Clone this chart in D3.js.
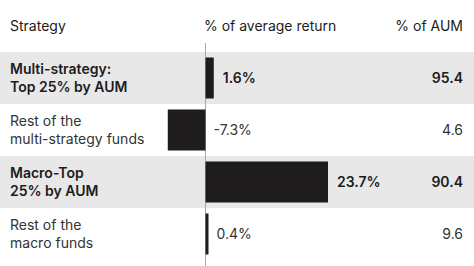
<!DOCTYPE html>
<html><head><meta charset="utf-8">
<script src="https://cdn.jsdelivr.net/npm/d3@7/dist/d3.min.js"></script>
<style>
html,body{margin:0;padding:0;background:#fff;}
svg{display:block;font-family:Inter,"Noto Sans",sans-serif;}
</style></head>
<body><svg id="c" width="474" height="266"></svg>
<script>
const categories = [
  ["Multi-strategy:", "Top 25% by AUM"],
  ["Rest of the", "multi-strategy funds"],
  ["Macro-Top", "25% by AUM"],
  ["Rest of the", "macro funds"]
];
const highlighted = [true, false, true, false];
const avgReturn = [1.6, -7.3, 23.7, 0.4];
const aumShare = [95.4, 4.6, 90.4, 9.6];
const headers = ["Strategy", "% of average return", "% of AUM"];

const W = 474, H = 266;
const svg = d3.select("#c");
const rows = d3.range(categories.length);

const y = d3.scaleBand().domain(rows).range([52, 260]).paddingInner(0);
const x = d3.scaleLinear().domain([0, 23.7]).range([205.5, 328]);

// header
const hdr = svg.append("g").attr("font-size", 14).attr("fill", "#1c1c1c");
hdr.append("text").attr("x", 10).attr("y", 31).text(headers[0]);
hdr.append("text").attr("x", 204).attr("y", 31).text(headers[1]);
hdr.append("text").attr("x", 463).attr("y", 31).attr("text-anchor", "end").text(headers[2]);

// bands
svg.append("g").selectAll("rect").data(rows.filter(i => highlighted[i])).join("rect")
  .attr("x", 0).attr("width", W)
  .attr("y", i => y(i)).attr("height", y.bandwidth())
  .attr("fill", "#e9e8e9");

// zero line
svg.append("line").attr("x1", x(0)).attr("x2", x(0)).attr("y1", 43).attr("y2", H)
  .attr("stroke", "#a8a8a8").attr("stroke-width", 1);

// bars
const barH = 41;
svg.append("g").selectAll("rect").data(rows).join("rect")
  .attr("x", i => Math.min(x(0), x(avgReturn[i])))
  .attr("width", i => Math.max(3, Math.abs(x(avgReturn[i]) - x(0))))
  .attr("y", i => y(i) + (y.bandwidth() - barH) / 2)
  .attr("height", barH)
  .attr("fill", "#1e1c1c");

// category labels
const lab = svg.append("g").attr("font-size", 14).attr("fill", "#1c1c1c");
rows.forEach(i => {
  const cy = y(i) + y.bandwidth() / 2;
  const t = lab.append("text").attr("x", 10)
    .attr("font-weight", highlighted[i] ? 600 : 400)
    .attr("fill", highlighted[i] ? "#1c1c1c" : "#333");
  categories[i].forEach((line, k) => {
    t.append("tspan").attr("x", 10).attr("y", cy - 4 + k * 17.5).text(line);
  });
});

// value labels
const vl = svg.append("g").attr("font-size", 14);
vl.selectAll("text.r").data(rows).join("text").attr("class", "r")
  .attr("x", i => Math.max(x(0), x(avgReturn[i])) + (avgReturn[i] < 0 ? 8 : 9))
  .attr("y", i => y(i) + y.bandwidth() / 2 + 5)
  .attr("font-weight", i => highlighted[i] ? 600 : 400)
  .attr("fill", i => highlighted[i] ? "#1c1c1c" : "#333")
  .text(i => avgReturn[i].toFixed(1) + "%");
vl.selectAll("text.a").data(rows).join("text").attr("class", "a")
  .attr("x", 463).attr("text-anchor", "end")
  .attr("y", i => y(i) + y.bandwidth() / 2 + 5)
  .attr("font-weight", i => highlighted[i] ? 600 : 400)
  .attr("fill", i => highlighted[i] ? "#1c1c1c" : "#333")
  .text(i => aumShare[i].toFixed(1));
</script></body></html>
